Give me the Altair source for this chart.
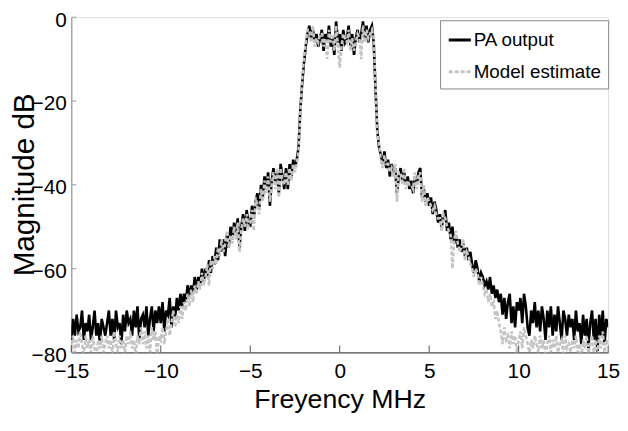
import altair as alt
import pandas as pd

# Frequency grid (MHz), 0.1 MHz steps from -15 to 15
freq_start = -15.0
freq_step = 0.1

pa_output = [
    -77, -72, -76, -71, -75, -74, -70, -77, -73, -75,   # -15
    -71, -77, -74, -70, -76, -73, -78, -72, -74, -76,   # -14
    -73, -70, -76, -72, -77, -70, -74, -73, -78, -71,   # -13
    -75, -70, -73, -72, -76, -70, -74, -69, -77, -72,   # -12
    -71, -74, -69, -76, -72, -69, -75, -70, -73, -69,   # -11
    -73, -68, -75, -70, -71, -67, -74, -69, -72, -67,   # -10
    -70, -66, -69, -66, -68, -64, -67, -64, -66, -62,   # -9
    -65, -62, -64, -60, -63, -60, -62, -58, -61, -57,   # -8
    -59, -55, -58, -53, -56, -53, -57, -52, -55, -50,   # -7
    -53, -49, -52, -48, -55, -50, -47, -51, -46, -49,   # -6
    -50, -45, -48, -44, -42, -46, -40, -43, -38, -41,   # -5
    -37, -45, -39, -36, -40, -37, -42, -35, -38, -41,   # -4
    -36, -41, -35, -38, -34, -36, -34, -31, -22, -16,   # -3
    -11, -7, -4, -2, -5, -3, -6, -4, -7, -5,            # -2
    -3, -8, -4, -6, -2, -7, -5, -9, -1, -6,             # -1
    -4, -8, -3, -6, -5, -2, -7, -4, -9, -5,             # 0
    -3, -6, -4, -1, -5, -2, -6, -3, -2, -6,             # 1
    -17, -27, -31, -33, -35, -32, -36, -34, -38, -35,   # 2
    -37, -36, -42, -38, -36, -39, -37, -40, -38, -41,   # 3
    -39, -42, -38, -40, -37, -36, -43, -41, -44, -42,   # 4
    -45, -43, -47, -44, -46, -49, -47, -50, -48, -46,   # 5
    -51, -49, -53, -50, -54, -52, -55, -53, -56, -54,   # 6
    -57, -55, -58, -56, -59, -61, -58, -60, -63, -61,   # 7
    -62, -64, -63, -65, -62, -66, -64, -67, -65, -68,   # 8
    -66, -71, -67, -72, -68, -66, -73, -69, -74, -68,   # 9
    -70, -67, -73, -66, -69, -74, -76, -70, -73, -68,   # 10
    -74, -70, -75, -69, -72, -77, -70, -74, -69, -76,   # 11
    -71, -75, -69, -73, -77, -70, -72, -76, -71, -74,   # 12
    -72, -77, -70, -75, -73, -78, -71, -76, -72, -79,   # 13
    -73, -70, -77, -72, -80, -71, -76, -70, -78, -72,   # 14
    -74,                                                # 15
]

model_estimate = [
    -78, -76, -80, -77, -79, -75, -78, -81, -76, -79,   # -15
    -77, -80, -76, -79, -82, -77, -79, -76, -80, -78,   # -14
    -76, -79, -77, -81, -75, -78, -80, -76, -79, -77,   # -13
    -80, -76, -78, -75, -79, -77, -81, -76, -78, -74,   # -12
    -78, -75, -79, -76, -80, -74, -77, -75, -81, -76,   # -11
    -77, -74, -78, -75, -72, -76, -73, -70, -74, -71,   # -10
    -73, -69, -72, -68, -70, -66, -69, -65, -68, -64,   # -9
    -66, -63, -65, -61, -64, -62, -59, -64, -58, -60,   # -8
    -57, -59, -55, -57, -53, -56, -54, -51, -55, -52,   # -7
    -54, -50, -53, -49, -56, -51, -48, -50, -47, -50,   # -6
    -49, -46, -51, -43, -45, -47, -41, -44, -39, -42,   # -5
    -38, -44, -40, -37, -41, -36, -43, -36, -39, -40,   # -4
    -37, -40, -36, -39, -35, -37, -35, -32, -23, -15,   # -3
    -10, -6, -3, -3, -6, -2, -7, -5, -6, -4,            # -2
    -4, -7, -5, -10, -3, -6, -4, -8, -2, -7,            # -1
    -12, -7, -4, -5, -6, -3, -8, -5, -8, -6,            # 0
    -4, -5, -10, -2, -6, -3, -5, -4, -3, -5,            # 1
    -16, -28, -30, -34, -36, -33, -35, -35, -37, -36,   # 2
    -38, -35, -44, -37, -37, -40, -36, -41, -39, -40,   # 3
    -40, -41, -37, -41, -38, -37, -44, -40, -45, -43,   # 4
    -44, -45, -46, -45, -47, -48, -48, -51, -47, -48,   # 5
    -50, -51, -52, -60, -53, -51, -54, -56, -55, -53,   # 6
    -58, -56, -57, -59, -60, -62, -60, -61, -64, -62,   # 7
    -64, -66, -65, -68, -66, -69, -68, -72, -70, -73,   # 8
    -75, -78, -74, -77, -76, -79, -75, -78, -76, -80,   # 9
    -77, -75, -79, -74, -76, -78, -80, -77, -79, -76,   # 10
    -78, -80, -76, -79, -77, -81, -78, -76, -80, -77,   # 11
    -79, -76, -80, -78, -77, -81, -76, -79, -78, -80,   # 12
    -77, -79, -76, -80, -78, -82, -77, -79, -76, -81,   # 13
    -78, -76, -80, -77, -81, -76, -79, -75, -80, -77,   # 14
    -78,                                                # 15
]

series_names = ["PA output", "Model estimate"]
x_ticks = [-15, -10, -5, 0, 5, 10, 15]
y_ticks = [-80, -60, -40, -20, 0]

freqs = [round(freq_start + freq_step * i, 1) for i in range(len(pa_output))]
df = pd.concat([
    pd.DataFrame({"f": freqs, "mag": pa_output, "series": series_names[0]}),
    pd.DataFrame({"f": freqs, "mag": model_estimate, "series": series_names[1]}),
])

FONT = "Liberation Sans, Arial, sans-serif"

xscale = alt.Scale(domain=[-15, 15], nice=False, zero=False)
yscale = alt.Scale(domain=[-80, 0], nice=False, zero=False)


def legend():
    return alt.Legend(title=None, orient="none", legendX=373, legendY=3,
                      symbolType="stroke", symbolSize=500, symbolStrokeWidth=3,
                      labelFont=FONT, labelFontSize=19, labelColor="black",
                      strokeColor="#888888", fillColor="white", padding=7,
                      rowPadding=9, labelOffset=1, labelLimit=300)


color = alt.Color("series:N",
                  scale=alt.Scale(domain=series_names, range=["#000000", "#c4c4c4"]),
                  legend=legend())
dash = alt.StrokeDash("series:N",
                      scale=alt.Scale(domain=series_names, range=[[1, 0], [4, 2]]),
                      legend=legend())

xaxis = alt.Axis(values=x_ticks, title="Freyency MHz", grid=False, ticks=False,
                 labelFont=FONT, labelFontSize=21, labelColor="black", labelPadding=8,
                 titleFont=FONT, titleFontSize=27, titleFontWeight="normal", titleColor="black",
                 titlePadding=6, domainColor="#555555", domainWidth=1.2, labelFlush=False)
yaxis = alt.Axis(values=y_ticks, title="Magnitude dB", grid=False, ticks=False,
                 labelFont=FONT, labelFontSize=21, labelColor="black", labelPadding=5,
                 labelOffset=3,
                 titleFont=FONT, titleFontSize=30, titleFontWeight="normal", titleColor="black",
                 titleBaseline="alphabetic", titleAngle=270, titleX=-38, titleY=169,
                 titleAlign="center",
                 domainColor="#999999", domainWidth=1.2, labelFlush=False)

base = alt.Chart(df)
pa = base.transform_filter(alt.datum.series == series_names[0]).mark_line(
    strokeWidth=2.6, clip=True).encode(
    x=alt.X("f:Q", scale=xscale, axis=xaxis),
    y=alt.Y("mag:Q", scale=yscale, axis=yaxis),
    color=color, strokeDash=dash)
model = base.transform_filter(alt.datum.series == series_names[1]).mark_line(
    strokeWidth=2.6, clip=True).encode(
    x=alt.X("f:Q", scale=xscale, axis=xaxis),
    y=alt.Y("mag:Q", scale=yscale, axis=yaxis),
    color=color, strokeDash=dash)

xt = alt.Chart(pd.DataFrame({"t": x_ticks})).mark_rule(color="#555555", strokeWidth=1).encode(
    x=alt.X("t:Q", scale=xscale), y=alt.value(339), y2=alt.value(332))
yt = alt.Chart(pd.DataFrame({"t": y_ticks})).mark_rule(color="#999999", strokeWidth=1).encode(
    y=alt.Y("t:Q", scale=yscale), x=alt.value(0), x2=alt.value(5))

chart = alt.layer(pa, model, xt, yt).properties(
    width=543, height=339,
    padding={"left": 64, "top": 7, "right": 12, "bottom": 69},
    autosize=alt.AutoSizeParams(type="none"),
).configure_view(stroke=None).configure(background="white")

chart.save("out.html", embed_options={"renderer": "svg", "actions": False})
